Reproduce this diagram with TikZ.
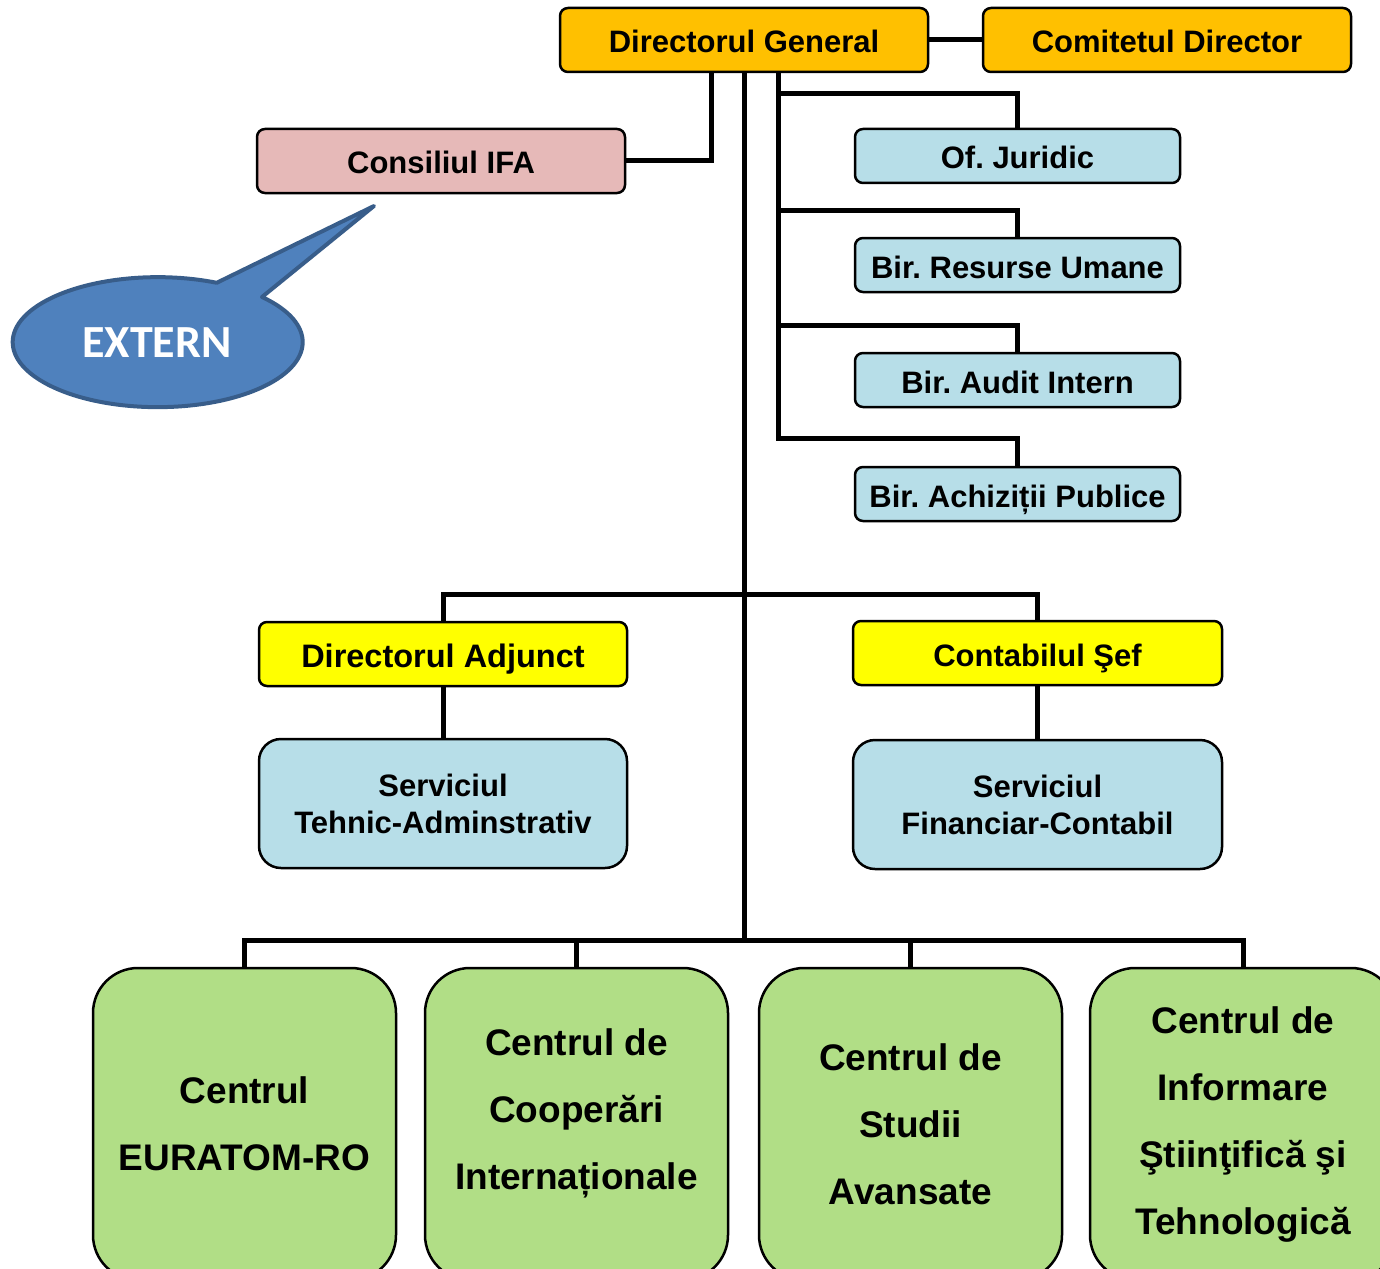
\documentclass[tikz,border=0pt]{standalone}
\usepackage{fontspec}
\setmainfont{Liberation Sans}
\newfontfamily\calibfont{Carlito}
\definecolor{orangeC}{HTML}{FFC000}
\definecolor{pinkC}{HTML}{E6B9B8}
\definecolor{blueC}{HTML}{B7DEE8}
\definecolor{yellowC}{HTML}{FFFF00}
\definecolor{greenC}{HTML}{B1DE86}
\definecolor{calloutFill}{HTML}{4F81BD}
\definecolor{calloutLine}{HTML}{385D8A}
\frenchspacing
\begin{document}
\frenchspacing
\begin{tikzpicture}[x=1pt,y=-1pt,
  box/.style={draw=black, line width=2.5pt, rounded corners=8pt, inner sep=0pt, align=center,
    font=\fontsize{31}{37}\selectfont\bfseries},
  oneline/.style={text height=26pt, text depth=0pt},
  bigbox/.style={box, oneline, minimum width=368pt, minimum height=64pt},
  smallbox/.style={box, oneline, fill=blueC, minimum width=325pt, minimum height=54pt},
  servbox/.style={box, fill=blueC, rounded corners=22pt, minimum width=368pt, minimum height=129pt},
  centrebox/.style={box, fill=greenC, rounded corners=45pt, minimum width=303pt, minimum height=312pt,
    font=\fontsize{37}{67}\selectfont\bfseries},
  centretext/.style={align=center, inner sep=0pt, font=\fontsize{37}{67}\selectfont\bfseries},
  conn/.style={line width=5pt, line join=miter},
  callout/.style={fill=calloutFill, draw=calloutLine, line width=4pt, line join=round}
]
\path[use as bounding box] (0,0) rectangle (1380,1268);
\clip (0,0) rectangle (1380,1268);

% nodes
\node[bigbox, fill=orangeC] (dg) at (744,40) {Directorul General};
\node[bigbox, fill=orangeC] (cd) at (1167,40) {Comitetul Director};
\node[bigbox, fill=pinkC] (ifa) at (441,161) {Consiliul IFA};

\node[smallbox] (jur) at (1017.5,156) {Of. Juridic};
\node[smallbox] (ru) at (1017.5,265) {Bir. Resurse Umane};
\node[smallbox] (aud) at (1017.5,380) {Bir. Audit Intern};
\node[smallbox] (ach) at (1017.5,494) {Bir. Achiziții Publice};

\node[bigbox, fill=yellowC, font=\fontsize{32.5}{37}\selectfont\bfseries] (da) at (443,654) {Directorul Adjunct};
\node[bigbox, fill=yellowC, minimum width=369pt] (cs) at (1037.5,653) {Contabilul Şef};

\node[servbox] (sta) at (443,803.5) {Serviciul\\Tehnic-Adminstrativ};
\node[servbox, minimum width=369pt] (sfc) at (1037.5,804.5) {Serviciul\\Financiar-Contabil};

\node[centrebox] (g1) at (244.5,1124) {Centrul\\EURATOM-RO};
\node[centrebox] (g2) at (576.5,1124) {};
\node[centretext] (g2t) at (576.5,1113) {Centrul de\\Cooperări\\Internaționale};
\node[centrebox] (g3) at (910.5,1124) {Centrul de\\Studii\\Avansate};
\node[centrebox, minimum width=306pt] (g4) at (1243,1124) {Centrul de\\Informare\\Ştiinţifică şi\\Tehnologică};

% junction coordinates
\coordinate (hubTop) at (744,594);
\coordinate (hubBot) at (744,940);
\coordinate (j1) at (1017.5,94);
\coordinate (j2) at (1017.5,210);
\coordinate (j3) at (1017.5,325);
\coordinate (j4) at (1017.5,438);

% connectors
\draw[conn] (dg.east) -- (cd.west);
\draw[conn] (dg.south) -- (hubBot);
\draw[conn] ([xshift=-33pt]dg.south) |- (ifa.east);
\draw[conn] ([xshift=34pt]dg.south) |- (j1) -- (jur.north);
\draw[conn] ([xshift=34pt]dg.south) |- (j2) -- (ru.north);
\draw[conn] ([xshift=34pt]dg.south) |- (j3) -- (aud.north);
\draw[conn] ([xshift=34pt]dg.south) |- (j4) -- (ach.north);
\draw[conn] (hubTop) -| (da.north);
\draw[conn] (hubTop) -| (cs.north);
\draw[conn] (da) -- (sta);
\draw[conn] (cs) -- (sfc);
\draw[conn] (hubBot) -| (g1.north);
\draw[conn] (hubBot) -| (g2.north);
\draw[conn] (hubBot) -| (g3.north);
\draw[conn] (hubBot) -| (g4.north);

% callout
\draw[callout] (216.7,282.8) -- (374,206) -- (262,297)
  arc[start angle=-44, end angle=294, x radius=145, y radius=65] -- cycle;
\node[text=white, font=\calibfont\fontsize{46}{50}\selectfont\bfseries] (ext) at (157,343) {EXTERN};
\end{tikzpicture}
\end{document}
